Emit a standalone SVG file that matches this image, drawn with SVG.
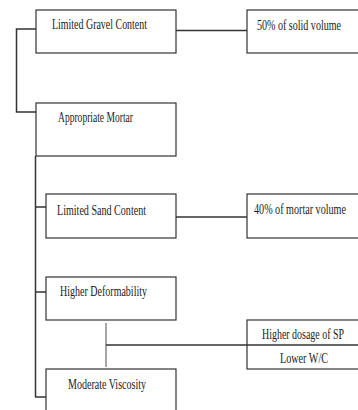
<svg xmlns="http://www.w3.org/2000/svg" width="358" height="410" viewBox="0 0 358 410">
<style>
.box{fill:#fff;stroke:#333;stroke-width:1.2}
.ln{fill:none;stroke:#333;stroke-width:1.5}
.lg{fill:none;stroke:#888;stroke-width:1.5}
text{font-family:"Liberation Serif","Times New Roman",serif;font-size:15px;fill:#222}
</style>
<rect width="358" height="410" fill="#fff"/>
<g id="connectors">
<polyline class="ln" points="36,29 16.5,29 16.5,112 36,112"/>
<line class="ln" x1="176" y1="30.5" x2="247" y2="30.5"/>
<line class="ln" x1="35.5" y1="156" x2="35.5" y2="397"/>
<line class="ln" x1="35" y1="207" x2="46" y2="207"/>
<line class="ln" x1="176" y1="217" x2="247" y2="217"/>
<line class="ln" x1="35" y1="292" x2="46" y2="292"/>
<line class="ln" x1="35" y1="397" x2="46" y2="397"/>
<line class="lg" x1="106" y1="323" x2="106" y2="367"/>
<line class="ln" x1="106" y1="345" x2="358" y2="345"/>
</g>
<g id="n1"><rect class="box" x="36" y="10" width="140" height="43"/><text x="52" y="29" textLength="95" lengthAdjust="spacingAndGlyphs">Limited Gravel Content</text></g>
<g id="n2"><rect class="box" x="36" y="103" width="140" height="53"/><text x="58" y="122" textLength="75" lengthAdjust="spacingAndGlyphs">Appropriate Mortar</text></g>
<g id="n3"><rect class="box" x="247" y="10" width="112" height="43"/><text x="257" y="30" textLength="84" lengthAdjust="spacingAndGlyphs">50% of solid volume</text></g>
<g id="n4"><rect class="box" x="46" y="194" width="130" height="44"/><text x="57" y="215" textLength="89" lengthAdjust="spacingAndGlyphs">Limited Sand Content</text></g>
<g id="n5"><rect class="box" x="247" y="194" width="112" height="44"/><text x="254" y="214" textLength="92" lengthAdjust="spacingAndGlyphs">40% of mortar volume</text></g>
<g id="n6"><rect class="box" x="46" y="277" width="130" height="43"/><text x="60" y="296" textLength="87" lengthAdjust="spacingAndGlyphs">Higher Deformability</text></g>
<g id="n7"><rect class="box" x="46" y="369" width="130" height="50"/><text x="68" y="389" textLength="78" lengthAdjust="spacingAndGlyphs">Moderate Viscosity</text></g>
<g id="n8"><rect class="box" x="247" y="320" width="112" height="49"/><line class="ln" x1="247" y1="345" x2="358" y2="345"/><text x="262" y="339" textLength="82" lengthAdjust="spacingAndGlyphs">Higher dosage of SP</text><text x="280" y="363" textLength="48" lengthAdjust="spacingAndGlyphs">Lower W/C</text></g>
</svg>
